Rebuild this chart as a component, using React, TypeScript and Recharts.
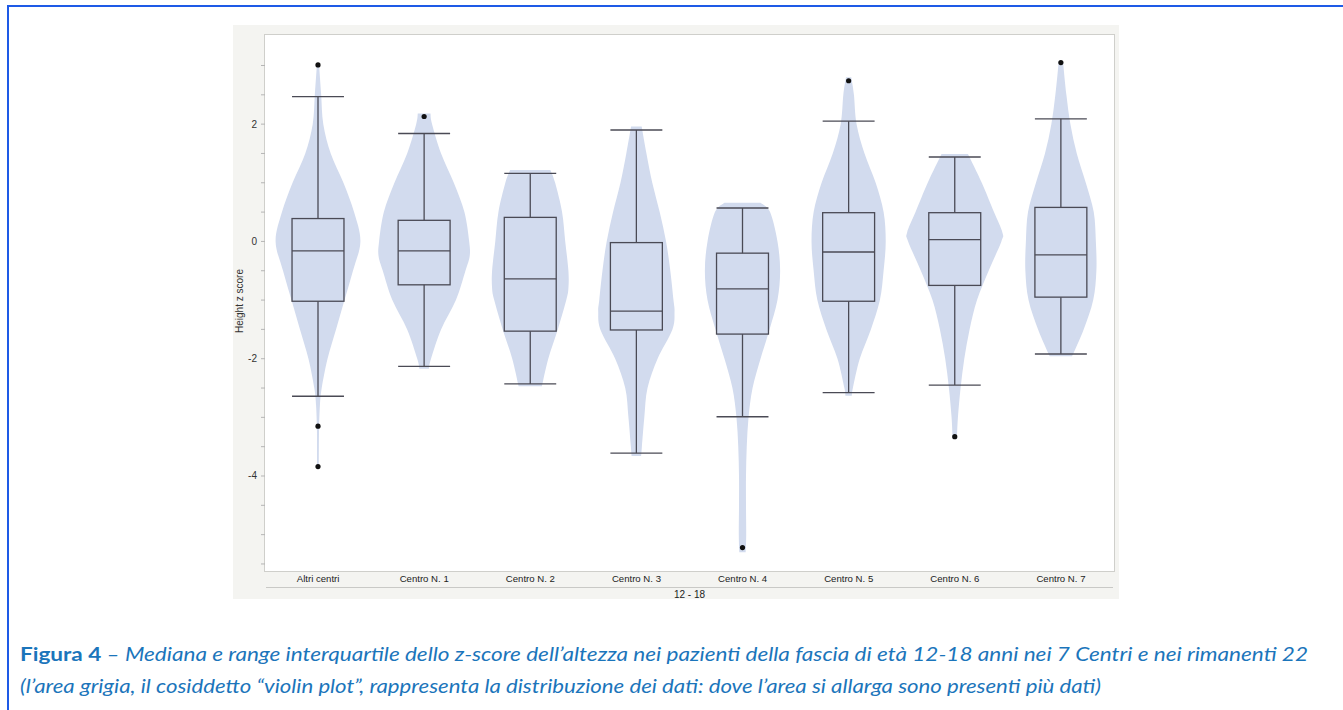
import { Bar, ComposedChart, XAxis, YAxis } from "recharts";

// #region Data
const categories = [
  "Altri centri",
  "Centro N. 1",
  "Centro N. 2",
  "Centro N. 3",
  "Centro N. 4",
  "Centro N. 5",
  "Centro N. 6",
  "Centro N. 7",
];

const whiskerHigh = [2.47, 1.84, 1.16, 1.9, 0.57, 2.05, 1.44, 2.09];
const q3 = [0.39, 0.36, 0.41, -0.02, -0.2, 0.49, 0.49, 0.58];
const median = [-0.16, -0.16, -0.64, -1.19, -0.81, -0.18, 0.03, -0.23];
const q1 = [-1.02, -0.74, -1.53, -1.51, -1.58, -1.02, -0.75, -0.95];
const whiskerLow = [-2.64, -2.13, -2.43, -3.61, -2.99, -2.58, -2.45, -1.92];

const outliers = [
  [3.01, -3.15, -3.84],
  [2.13],
  [],
  [],
  [-5.22],
  [2.74],
  [-3.33],
  [3.05],
];

// violin profile: [z score, relative density]
const violinDensity = [
  [[3.02, 0.01], [2.5, 0.03], [2.0, 0.05], [1.5, 0.12], [1.0, 0.24], [0.5, 0.34], [0, 0.4], [-0.5, 0.33], [-1.0, 0.25], [-1.5, 0.17], [-2.0, 0.09], [-2.5, 0.035], [-2.8, 0.018], [-3.2, 0.01], [-3.86, 0.008]],
  [[2.18, 0.06], [2.0, 0.075], [1.5, 0.16], [1.0, 0.28], [0.5, 0.38], [0, 0.425], [-0.25, 0.43], [-0.5, 0.39], [-1.0, 0.3], [-1.5, 0.16], [-2.0, 0.065], [-2.17, 0.045]],
  [[1.22, 0.19], [1.0, 0.235], [0.5, 0.3], [0, 0.33], [-0.5, 0.36], [-0.8, 0.36], [-1.0, 0.34], [-1.5, 0.26], [-2.0, 0.17], [-2.47, 0.11]],
  [[1.96, 0.05], [1.5, 0.095], [1.0, 0.15], [0.5, 0.22], [0, 0.28], [-0.5, 0.32], [-1.0, 0.35], [-1.2, 0.36], [-1.5, 0.34], [-2.0, 0.2], [-2.5, 0.105], [-3.0, 0.075], [-3.5, 0.052], [-3.66, 0.045]],
  [[0.66, 0.17], [0.5, 0.26], [0, 0.33], [-0.5, 0.355], [-1.0, 0.33], [-1.5, 0.255], [-2.0, 0.17], [-2.5, 0.095], [-3.0, 0.057], [-3.5, 0.04], [-4.0, 0.033], [-4.5, 0.033], [-5.0, 0.035], [-5.3, 0.03]],
  [[2.8, 0.025], [2.5, 0.05], [2.0, 0.075], [1.5, 0.15], [1.0, 0.255], [0.5, 0.33], [0, 0.35], [-0.5, 0.33], [-1.0, 0.295], [-1.5, 0.21], [-2.0, 0.105], [-2.5, 0.04], [-2.63, 0.03]],
  [[1.49, 0.125], [1.0, 0.255], [0.5, 0.37], [0.15, 0.45], [0, 0.44], [-0.5, 0.32], [-1.0, 0.21], [-1.5, 0.14], [-2.0, 0.09], [-2.5, 0.055], [-3.0, 0.03], [-3.36, 0.02]],
  [[3.07, 0.02], [2.5, 0.052], [2.0, 0.09], [1.5, 0.15], [1.0, 0.235], [0.5, 0.31], [0, 0.33], [-0.5, 0.335], [-1.0, 0.305], [-1.5, 0.215], [-1.96, 0.105]],
];

const yTicks = [-5.5, -5, -4.5, -4, -3.5, -3, -2.5, -2, -1.5, -1, -0.5, 0, 0.5, 1, 1.5, 2, 2.5, 3];
const yDomain = [-5.62, 3.52];
const groupLabel = "12 - 18";
// #endregion

const data = categories.map((name, i) => {
  const all = [
    ...violinDensity[i].map((p) => p[0]),
    ...outliers[i],
    whiskerLow[i],
    whiskerHigh[i],
  ];
  return {
    name,
    range: [Math.min(...all), Math.max(...all)],
    whiskerLow: whiskerLow[i],
    q1: q1[i],
    median: median[i],
    q3: q3[i],
    whiskerHigh: whiskerHigh[i],
    outliers: outliers[i],
    violin: violinDensity[i],
  };
});

const FONT = "'Liberation Sans', Arial, sans-serif";
const LINE = "#4a4a55";
const VIOLIN = "#d2dbee";
const BOX_HALF = 0.245; // of the category band

// catmull-rom through the points
const smooth = (pts: number[][]) => {
  let d = "";
  for (let i = 0; i < pts.length - 1; i++) {
    const p0 = pts[i - 1] || pts[i];
    const p1 = pts[i];
    const p2 = pts[i + 1];
    const p3 = pts[i + 2] || p2;
    const c1x = p1[0] + (p2[0] - p0[0]) / 6;
    const c1y = p1[1] + (p2[1] - p0[1]) / 6;
    const c2x = p2[0] - (p3[0] - p1[0]) / 6;
    const c2y = p2[1] - (p3[1] - p1[1]) / 6;
    d += ` C${c1x},${c1y} ${c2x},${c2y} ${p2[0]},${p2[1]}`;
  }
  return d;
};

const ViolinBox = (props: any) => {
  const { x, y, width, height, payload } = props;
  const [lo, hi] = payload.range;
  const top = Math.min(y, y + height);
  const bot = Math.max(y, y + height);
  const py = (v: number) => top + ((hi - v) / (hi - lo)) * (bot - top);
  const cx = x + width / 2;
  const right = payload.violin.map((p: number[]) => [cx + p[1] * width, py(p[0])]);
  const left = payload.violin
    .map((p: number[]) => [cx - p[1] * width, py(p[0])])
    .reverse();
  const path =
    `M${right[0][0]},${right[0][1]}` +
    smooth(right) +
    ` L${left[0][0]},${left[0][1]}` +
    smooth(left) +
    " Z";
  const bx0 = cx - BOX_HALF * width;
  const bx1 = cx + BOX_HALF * width;
  return (
    <g>
      <path d={path} fill={VIOLIN} stroke="none" />
      <g stroke={LINE} strokeWidth={1.3} fill="none">
        <line x1={cx} x2={cx} y1={py(payload.whiskerHigh)} y2={py(payload.q3)} />
        <line x1={cx} x2={cx} y1={py(payload.q1)} y2={py(payload.whiskerLow)} />
        <line x1={bx0} x2={bx1} y1={py(payload.whiskerHigh)} y2={py(payload.whiskerHigh)} />
        <line x1={bx0} x2={bx1} y1={py(payload.whiskerLow)} y2={py(payload.whiskerLow)} />
        <rect x={bx0} y={py(payload.q3)} width={bx1 - bx0} height={py(payload.q1) - py(payload.q3)} />
        <line x1={bx0} x2={bx1} y1={py(payload.median)} y2={py(payload.median)} />
      </g>
      {payload.outliers.map((v: number, k: number) => (
        <circle key={k} cx={cx} cy={py(v)} r={2.6} fill="#111" />
      ))}
    </g>
  );
};

const YTick = ({ x, y, payload }: any) =>
  payload.value % 2 === 0 ? (
    <text x={x} y={y} dy={3.5} textAnchor="end" fontSize={10} fill="#333" fontFamily={FONT}>
      {payload.value}
    </text>
  ) : (
    <g />
  );

const XTick = ({ x, y, payload }: any) => (
  <text x={x} y={y} dy={8} textAnchor="middle" fontSize={9.6} fill="#222" fontFamily={FONT}>
    {payload.value}
  </text>
);

export default function App() {
  return (
    <div style={{ position: "absolute", left: 0, top: 0, width: 1343, height: 710, background: "#fff" }}>
      {/* blue frame */}
      <div
        style={{
          position: "absolute",
          left: 7,
          top: 5,
          width: 1400,
          height: 800,
          borderLeft: "2px solid #1e5ae6",
          borderTop: "2px solid #1e5ae6",
        }}
      />
      {/* chart panel */}
      <div style={{ position: "absolute", left: 233, top: 25, width: 886, height: 574, background: "#f4f4f1" }}>
        <div
          style={{
            position: "absolute",
            left: 31,
            top: 9,
            width: 851,
            height: 538,
            boxSizing: "border-box",
            background: "#fff",
            border: "1.5px solid #cfcfcb",
          }}
        />
        <div style={{ position: "absolute", left: 0, top: 0 }}>
          <ComposedChart
            width={886}
            height={574}
            data={data}
            margin={{ top: 10, right: 5, left: 0, bottom: 0 }}
            barCategoryGap={0}
            barGap={0}
          >
            <XAxis
              dataKey="name"
              height={28}
              axisLine={false}
              tickLine={false}
              tickSize={0}
              tickMargin={3}
              interval={0}
              tick={<XTick />}
            />
            <YAxis
              type="number"
              width={32}
              domain={yDomain}
              allowDataOverflow
              ticks={yTicks}
              interval={0}
              axisLine={false}
              tickSize={4}
              tickMargin={4}
              tickLine={{ stroke: "#b5b5b5" }}
              tick={<YTick />}
            />
            <Bar dataKey="range" shape={<ViolinBox />} isAnimationActive={false} />
          </ComposedChart>
        </div>
      </div>
      {/* labels and caption */}
      <svg
        width={1343}
        height={710}
        style={{ position: "absolute", left: 0, top: 0, pointerEvents: "none" }}
      >
        <text
          transform="translate(243,301) rotate(-90)"
          textAnchor="middle"
          fontSize={10}
          fill="#333"
          fontFamily={FONT}
        >
          Height z score
        </text>
        <line x1={266} x2={1113} y1={587.5} y2={587.5} stroke="#c9c9c6" strokeWidth={1.2} />
        <text x={689.5} y={598} textAnchor="middle" fontSize={10} fill="#222" fontFamily={FONT}>
          {groupLabel}
        </text>
        <text
          x={20}
          y={661}
          fontSize={19}
          fill="#1b75bb"
          fontFamily="Lato, 'Open Sans', sans-serif"
          textLength={1288}
          lengthAdjust="spacingAndGlyphs"
        >
          <tspan fontWeight={700}>Figura 4</tspan>
          <tspan fontStyle="italic">
            {" – Mediana e range interquartile dello z-score dell’altezza nei pazienti della fascia di età 12-18 anni nei 7 Centri e nei rimanenti 22"}
          </tspan>
        </text>
        <text
          x={20}
          y={693}
          fontSize={19}
          fill="#1b75bb"
          fontStyle="italic"
          fontFamily="Lato, 'Open Sans', sans-serif"
          textLength={1081}
          lengthAdjust="spacingAndGlyphs"
        >
          (l’area grigia, il cosiddetto “violin plot”, rappresenta la distribuzione dei dati: dove l’area si allarga sono presenti più dati)
        </text>
      </svg>
    </div>
  );
}
